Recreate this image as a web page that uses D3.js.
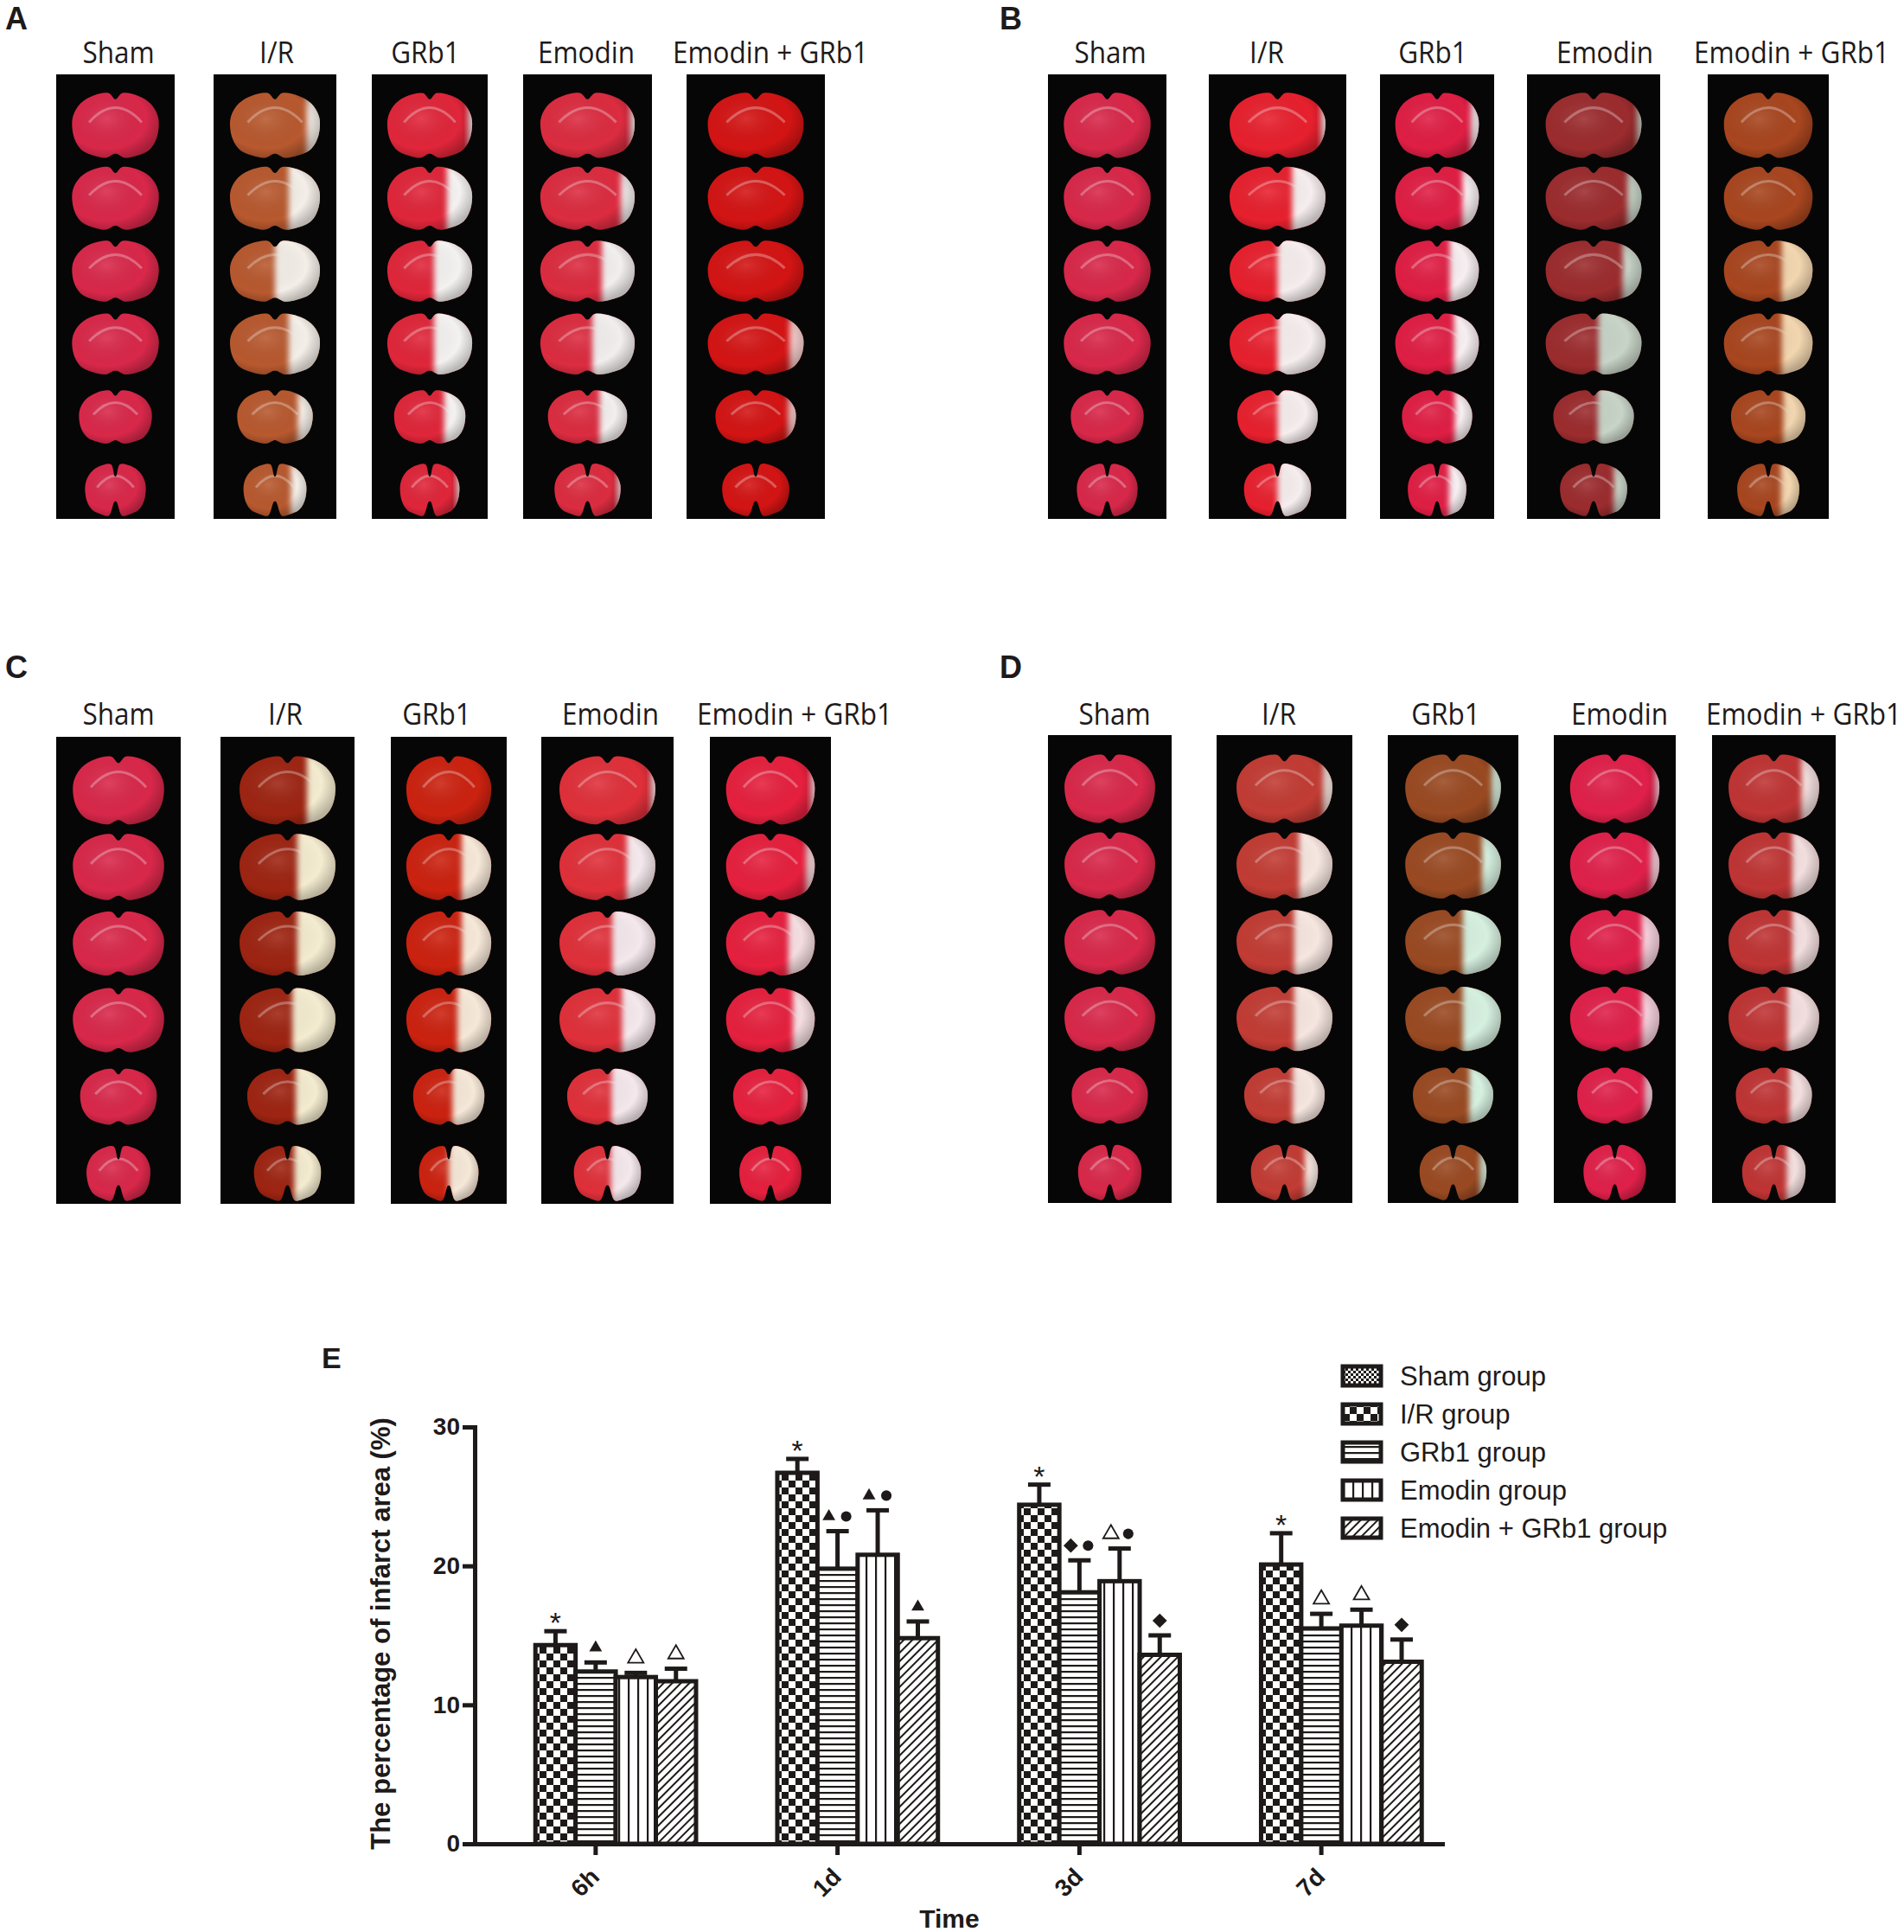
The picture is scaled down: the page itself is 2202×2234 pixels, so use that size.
<!DOCTYPE html>
<html>
<head>
<meta charset="utf-8">
<script src="https://cdn.jsdelivr.net/npm/d3@7"></script>
<style>
  body { margin: 0; background: #fff; }
</style>
</head>
<body>
<script>
// ---------- Data: TTC slices (A-D) ----------
const panelLetters = ["A", "B", "C", "D"]
const groupLabels = ["Sham", "I/R", "GRb1", "Emodin", "Emodin + GRb1"]

// pale (infarct) share of each slice width, by eye, 6 slices per column
const infarctA = [
  [0, 0, 0, 0, 0, 0],
  [0.15, 0.35, 0.5, 0.35, 0.2, 0.25],
  [0.05, 0.3, 0.45, 0.45, 0.3, 0.05],
  [0.05, 0.15, 0.35, 0.45, 0.35, 0.05],
  [0, 0, 0, 0.15, 0.1, 0]
]
const infarctB = [
  [0, 0, 0, 0, 0, 0],
  [0.05, 0.35, 0.5, 0.5, 0.5, 0.5],
  [0.1, 0.2, 0.35, 0.3, 0.25, 0.3],
  [0.05, 0.15, 0.2, 0.45, 0.45, 0.2],
  [0, 0, 0.35, 0.35, 0.3, 0.3]
]
const infarctC = [
  [0, 0, 0, 0, 0, 0],
  [0.3, 0.4, 0.4, 0.45, 0.4, 0.4],
  [0, 0.35, 0.35, 0.4, 0.45, 0.5],
  [0.05, 0.3, 0.45, 0.35, 0.45, 0.45],
  [0.05, 0.1, 0.3, 0.25, 0.05, 0]
]
const infarctD = [
  [0, 0, 0, 0, 0, 0],
  [0.1, 0.35, 0.4, 0.4, 0.4, 0.2],
  [0.1, 0.2, 0.4, 0.4, 0.3, 0.1],
  [0.05, 0.1, 0.2, 0.2, 0.1, 0],
  [0.2, 0.3, 0.3, 0.35, 0.3, 0.3]
]

// ---------- Data: infarct area chart (E) ----------
const timePoints = ["6h", "1d", "3d", "7d"]
const seriesNames = ["Sham group", "I/R group", "GRb1 group", "Emodin group", "Emodin + GRb1 group"]
const yTicks = [0, 10, 20, 30]

const meanSham = [0, 0, 0, 0]
const meanIR = [14.3, 26.7, 24.4, 20.1]
const meanGRb1 = [12.4, 19.8, 18.1, 15.5]
const meanEmodin = [12.0, 20.8, 18.9, 15.7]
const meanCombo = [11.7, 14.8, 13.6, 13.1]

const sdSham = [0, 0, 0, 0]
const sdIR = [1.0, 1.0, 1.45, 2.25]
const sdGRb1 = [0.65, 2.7, 2.3, 1.05]
const sdEmodin = [0.3, 3.2, 2.35, 1.15]
const sdCombo = [0.9, 1.2, 1.4, 1.6]

const markSham = ["", "", "", ""]
const markIR = ["*", "*", "*", "*"]
const markGRb1 = ["▲", "▲●", "◆●", "△"]
const markEmodin = ["△", "▲●", "△●", "△"]
const markCombo = ["△", "▲", "◆", "◆"]

// ---------- Layout / style ----------
const W = 2202, H = 2234
const ink = "#1e1a1a"

const panelLayout = {
  A: { letter: [6, 34], labelY: 73, top: 86, bottom: 600,
       strips: [[65, 202], [247, 389], [430, 564], [605, 754], [794, 954]],
       labelX: [137, 320, 492, 678, 891] },
  B: { letter: [1156, 34], labelY: 73, top: 86, bottom: 600,
       strips: [[1212, 1349], [1398, 1557], [1596, 1728], [1766, 1920], [1975, 2115]],
       labelX: [1284, 1465, 1657, 1856, 2072] },
  C: { letter: [6, 784], labelY: 838, top: 852, bottom: 1392,
       strips: [[65, 209], [255, 410], [452, 586], [626, 779], [821, 961]],
       labelX: [137, 330, 505, 706, 919] },
  D: { letter: [1156, 784], labelY: 838, top: 850, bottom: 1391,
       strips: [[1212, 1355], [1407, 1564], [1605, 1756], [1797, 1938], [1980, 2123]],
       labelX: [1289, 1479, 1672, 1873, 2086] }
}
const infarctData = { A: infarctA, B: infarctB, C: infarctC, D: infarctD }

const tissueColor = {
  A: ["#d9284a", "#b8592f", "#e0263a", "#dc2c40", "#d41414"],
  B: ["#d9284a", "#e8202e", "#e01e44", "#9c2c2e", "#a8461f"],
  C: ["#d9284a", "#9e2412", "#cc2210", "#e0303a", "#e6203e"],
  D: ["#d9284a", "#c23c34", "#9a4a22", "#e0204a", "#c03434"]
}
const paleColor = {
  A: ["#f4f0f0", "#f4eee8", "#f4f2f0", "#f2eeee", "#f8d0d0"],
  B: ["#f4f0f0", "#f6eeee", "#f6eef0", "#c8d4c8", "#f2d6b0"],
  C: ["#f4f0f0", "#f4ecd0", "#f6e8d8", "#f4e8ec", "#f4dde0"],
  D: ["#f4f0f0", "#f6e6e0", "#d6f0e0", "#f4d0dc", "#f2dede"]
}

const svg = d3.select("body").append("svg")
  .attr("width", W)
  .attr("height", H)
  .style("font-family", "'Liberation Sans', Arial, sans-serif")

svg.append("rect").attr("width", W).attr("height", H).attr("fill", "#fff")

const defs = svg.append("defs")
defs.append("filter").attr("id", "soft")
  .attr("x", "-30%").attr("y", "-30%").attr("width", "160%").attr("height", "160%")
  .append("feGaussianBlur").attr("stdDeviation", 3)

// gentle shading so slices don't look flat
const shade = defs.append("radialGradient").attr("id", "shade")
  .attr("cx", "40%").attr("cy", "40%").attr("r", "65%")
shade.append("stop").attr("offset", "0%").attr("stop-color", "#fff").attr("stop-opacity", 0.12)
shade.append("stop").attr("offset", "70%").attr("stop-color", "#000").attr("stop-opacity", 0)
shade.append("stop").attr("offset", "100%").attr("stop-color", "#000").attr("stop-opacity", 0.25)

// coronal slice outline, built on a unit template
function slicePath(w, h, i) {
  const nt = i === 5 ? 0.45 : 0.16
  const nb = i === 5 ? 0.55 : 0.12
  const right = [[0.02, -0.98 + nt], [0.15, -1], [0.5, -0.93], [0.8, -0.68], [0.97, -0.28],
    [0.98, 0.15], [0.9, 0.52], [0.75, 0.78], [0.5, 0.93], [0.22, 1], [0.03, 1 - nb]]
  const pts = right.concat(right.slice().reverse().map(([px, py]) => [-px, py]))
  return d3.line()
    .x(d => d[0] * w / 2)
    .y(d => d[1] * h / 2)
    .curve(d3.curveCatmullRomClosed.alpha(0.5))(pts)
}

const sizeW = [1, 1, 1, 1, 0.84, 0.7]
const sizeH = [1, 0.97, 0.94, 0.94, 0.82, 0.8]

panelLetters.forEach(p => {
  const L = panelLayout[p]
  const inf = infarctData[p]

  svg.append("text")
    .attr("x", L.letter[0]).attr("y", L.letter[1])
    .attr("font-size", 36).attr("font-weight", "bold").attr("fill", ink)
    .text(p)

  groupLabels.forEach((name, c) => {
    const [x0, x1] = L.strips[c]
    const sw = x1 - x0, sh = L.bottom - L.top
    const cx = (x0 + x1) / 2

    svg.append("rect")
      .attr("x", x0).attr("y", L.top)
      .attr("width", sw).attr("height", sh)
      .attr("fill", "#060606")

    svg.append("text")
      .attr("transform", `translate(${L.labelX[c]},${L.labelY}) scale(0.9,1)`)
      .attr("text-anchor", "middle")
      .attr("font-family", "'Open Sans', 'Noto Sans', sans-serif")
      .attr("font-size", 35)
      .attr("fill", ink)
      .text(name)

    const ys = d3.scalePoint().domain(d3.range(6))
      .range([L.top + sh * 0.115, L.top + sh * 0.935])

    svg.append("g").selectAll("g")
      .data(inf[c])
      .join("g")
        .attr("transform", (d, i) => `translate(${cx},${ys(i)})`)
        .each(function (frac, i) {
          const g = d3.select(this)
          const w = Math.min(sw * 0.74, 112) * sizeW[i]
          const h = sh * 0.145 * sizeH[i]
          const id = `cl-${p}-${c}-${i}`
          const d = slicePath(w, h, i)
          defs.append("clipPath").attr("id", id).append("path").attr("d", d)

          g.append("path").attr("d", d).attr("fill", tissueColor[p][c])
          // white matter arc
          g.append("path")
            .attr("d", `M${-w * 0.3},${-h * 0.05} Q0,${-h * 0.5} ${w * 0.3},${-h * 0.05}`)
            .attr("fill", "none").attr("stroke", "#fff").attr("stroke-opacity", 0.3)
            .attr("stroke-width", 3)
            .attr("clip-path", `url(#${id})`)
          if (frac > 0) {
            g.append("g").attr("clip-path", `url(#${id})`)
              .append("rect")
                .attr("x", w / 2 - frac * w)
                .attr("y", -h / 2 - 6)
                .attr("width", frac * w + 10)
                .attr("height", h + 12)
                .attr("fill", paleColor[p][c])
                .attr("filter", "url(#soft)")
          }
          g.append("path").attr("d", d).attr("fill", "url(#shade)")
        })
  })
})

// ---------- Panel E: bar chart ----------
const y = d3.scaleLinear().domain([0, 30]).range([2132, 1650])
const x0 = d3.scaleBand().domain(timePoints).range([549, 1668])
  .paddingInner(0.17).paddingOuter(0.085)
const x1 = d3.scaleBand().domain(seriesNames).range([0, x0.bandwidth()])

// fill patterns
function pattern(id, w, h, build, transform) {
  const pt = defs.append("pattern").attr("id", id)
    .attr("patternUnits", "userSpaceOnUse")
    .attr("width", w).attr("height", h)
  if (transform) pt.attr("patternTransform", transform)
  pt.append("rect").attr("width", w).attr("height", h).attr("fill", "#fff")
  build(pt)
}
pattern("p-sham", 6, 6, pt => {
  pt.append("rect").attr("width", 3).attr("height", 3).attr("fill", ink)
  pt.append("rect").attr("x", 3).attr("y", 3).attr("width", 3).attr("height", 3).attr("fill", ink)
})
pattern("p-ir", 16, 16, pt => {
  pt.append("rect").attr("width", 8).attr("height", 8).attr("fill", ink)
  pt.append("rect").attr("x", 8).attr("y", 8).attr("width", 8).attr("height", 8).attr("fill", ink)
})
pattern("p-grb1", 10, 7, pt => {
  pt.append("rect").attr("y", 0).attr("width", 10).attr("height", 2.2).attr("fill", ink)
})
pattern("p-emodin", 11, 10, pt => {
  pt.append("rect").attr("x", 0).attr("width", 2.2).attr("height", 10).attr("fill", ink)
})
pattern("p-combo", 7, 10, pt => {
  pt.append("rect").attr("x", 0).attr("width", 2).attr("height", 10).attr("fill", ink)
}, "rotate(45)")

const patternIds = ["p-sham", "p-ir", "p-grb1", "p-emodin", "p-combo"]
const means = [meanSham, meanIR, meanGRb1, meanEmodin, meanCombo]
const sds = [sdSham, sdIR, sdGRb1, sdEmodin, sdCombo]
const marks = [markSham, markIR, markGRb1, markEmodin, markCombo]

const rows = []
timePoints.forEach((t, ti) => {
  seriesNames.forEach((s, si) => {
    rows.push({ t, s, si, v: means[si][ti], sd: sds[si][ti], mark: marks[si][ti] })
  })
})
const bars = rows.filter(r => r.v > 0)
const cxOf = r => x0(r.t) + x1(r.s) + x1.bandwidth() / 2

const gBars = svg.append("g")

// error bars (upper only)
gBars.selectAll("line.err")
  .data(bars)
  .join("line")
    .attr("class", "err")
    .attr("x1", cxOf).attr("x2", cxOf)
    .attr("y1", d => y(d.v)).attr("y2", d => y(d.v + d.sd))
    .attr("stroke", ink).attr("stroke-width", 5)
gBars.selectAll("line.cap")
  .data(bars)
  .join("line")
    .attr("class", "cap")
    .attr("x1", d => cxOf(d) - 13).attr("x2", d => cxOf(d) + 13)
    .attr("y1", d => y(d.v + d.sd)).attr("y2", d => y(d.v + d.sd))
    .attr("stroke", ink).attr("stroke-width", 5)

gBars.selectAll("rect.bar")
  .data(bars)
  .join("rect")
    .attr("class", "bar")
    .attr("x", d => x0(d.t) + x1(d.s))
    .attr("y", d => y(d.v))
    .attr("width", x1.bandwidth())
    .attr("height", d => y(0) - y(d.v))
    .attr("fill", d => `url(#${patternIds[d.si]})`)
    .attr("stroke", ink)
    .attr("stroke-width", 5)

// significance marks
const symbolSpec = {
  "▲": { type: d3.symbolTriangle, size: 95, fill: ink, rot: 0 },
  "△": { type: d3.symbolTriangle, size: 140, fill: "#fff", rot: 0 },
  "●": { type: d3.symbolCircle, size: 115, fill: ink, rot: 0 },
  "◆": { type: d3.symbolSquare, size: 140, fill: ink, rot: 45 }
}
bars.forEach(r => {
  const chars = Array.from(r.mark)
  const offs = chars.length === 2 ? [-10, 10] : [0]
  const top = y(r.v + r.sd)
  chars.forEach((ch, k) => {
    const cx = cxOf(r) + offs[k]
    if (ch === "*") {
      svg.append("text")
        .attr("x", cx).attr("y", top + 2)
        .attr("text-anchor", "middle")
        .attr("font-size", 34).attr("fill", ink)
        .text("*")
    } else {
      const sp = symbolSpec[ch]
      svg.append("path")
        .attr("d", d3.symbol().type(sp.type).size(sp.size)())
        .attr("transform", `translate(${cx},${top - 17}) rotate(${sp.rot})`)
        .attr("fill", sp.fill)
        .attr("stroke", ink)
        .attr("stroke-width", sp.fill === "#fff" ? 1.8 : 0)
    }
  })
})

// axes
const yAxis = svg.append("g")
  .attr("transform", "translate(549,0)")
  .call(d3.axisLeft(y).tickValues(yTicks).tickSize(14).tickSizeOuter(0).tickPadding(3))
const xAxis = svg.append("g")
  .attr("transform", "translate(0,2132)")
  .call(d3.axisBottom(x0).tickSize(13).tickSizeOuter(0))

;[yAxis, xAxis].forEach(a => {
  a.select(".domain").attr("stroke", ink).attr("stroke-width", 5).attr("stroke-linecap", "square")
  a.selectAll(".tick line").attr("stroke", ink).attr("stroke-width", 5)
  a.selectAll(".tick text")
    .attr("fill", ink)
    .style("font-family", "'Liberation Sans', Arial, sans-serif")
    .style("font-size", "28px")
    .style("font-weight", "bold")
})
xAxis.selectAll(".tick text")
  .attr("x", 0).attr("y", 0).attr("dy", null)
  .attr("transform", "translate(6,40) rotate(-45)")
  .style("text-anchor", "end")

svg.append("text")
  .attr("transform", "translate(451,1889) rotate(-90)")
  .attr("text-anchor", "middle")
  .attr("font-size", 31).attr("font-weight", "bold").attr("fill", ink)
  .text("The percentage of infarct area (%)")

svg.append("text")
  .attr("x", 1098).attr("y", 2229)
  .attr("text-anchor", "middle")
  .attr("font-size", 30).attr("font-weight", "bold").attr("fill", ink)
  .text("Time")

svg.append("text")
  .attr("x", 372).attr("y", 1582)
  .attr("font-size", 34).attr("font-weight", "bold").attr("fill", ink)
  .text("E")

// legend
const legend = svg.append("g").attr("transform", "translate(1553,1591)")
const leg = legend.selectAll("g")
  .data(seriesNames)
  .join("g")
    .attr("transform", (d, i) => `translate(0,${i * 44})`)
leg.append("rect")
  .attr("x", 0).attr("y", -11)
  .attr("width", 44).attr("height", 22)
  .attr("fill", (d, i) => `url(#${patternIds[i]})`)
  .attr("stroke", ink).attr("stroke-width", 5)
leg.append("text")
  .attr("x", 66).attr("y", 0)
  .attr("dy", "0.35em")
  .attr("font-size", 31).attr("fill", ink)
  .text(d => d)
</script>
</body>
</html>
